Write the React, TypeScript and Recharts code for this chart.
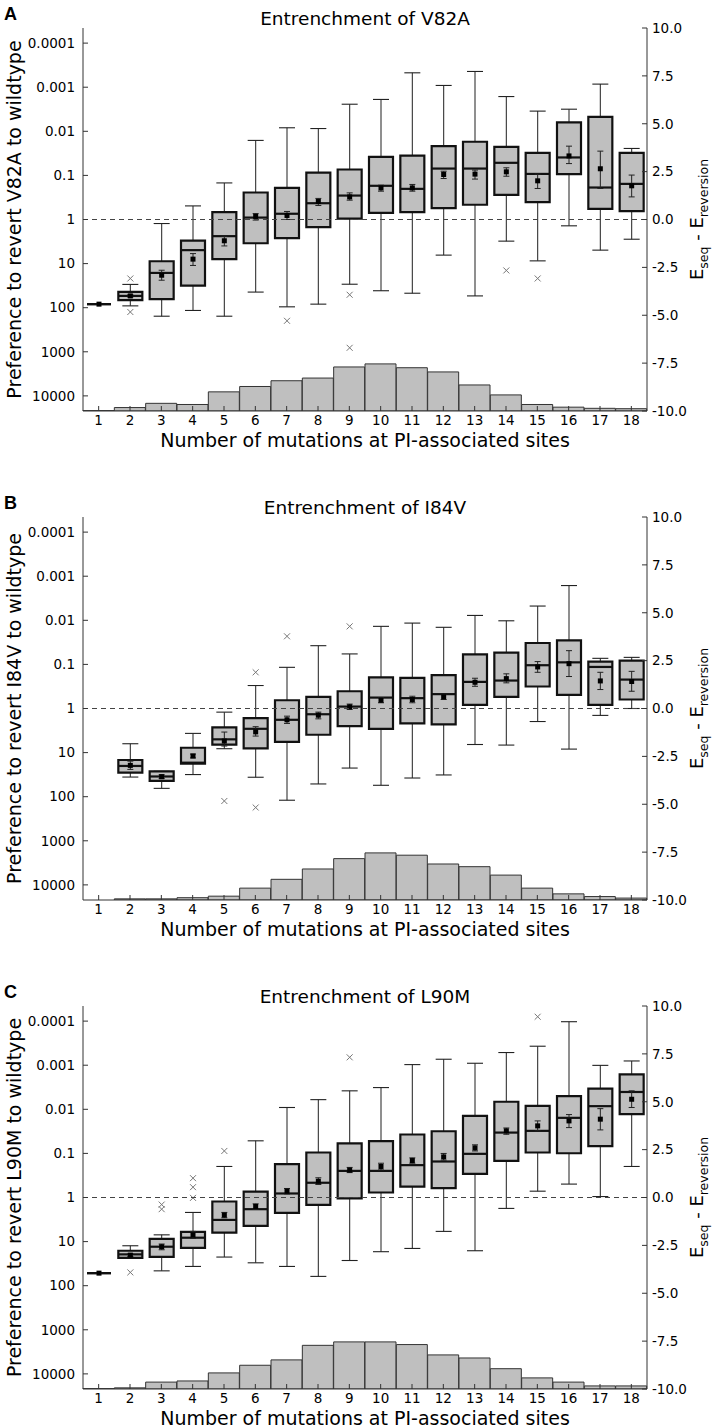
import React from 'react';
import { ComposedChart, Bar, XAxis, YAxis, ReferenceLine, Customized } from 'recharts';

// ---------- data ----------
const categories = ['1','2','3','4','5','6','7','8','9','10','11','12','13','14','15','16','17','18'];

// left-axis tick labels (preference to revert), placed at -ln(value) on the energy axis
const prefLabels = ['0.0001','0.001','0.01','0.1','1','10','100','1000','10000'];
const energyTicks = [-10, -7.5, -5, -2.5, 0, 2.5, 5, 7.5, 10];

type Stat = [number, number, number, number, number] | null; // min, q1, median, q3, max
type Mean = [number, number, number] | null; // mean, low, high

// ---- Panel A: V82A ----
const statsA: Stat[] = [
  [-4.42, -4.42, -4.42, -4.42, -4.42],
  [-4.51, -4.21, -3.99, -3.78, -3.39],
  [-5.05, -4.16, -2.79, -2.18, -0.21],
  [-4.75, -3.45, -1.6, -1.1, 0.71],
  [-5.05, -2.07, -0.87, 0.38, 1.91],
  [-3.79, -1.24, 0.1, 1.41, 4.13],
  [-4.56, -0.97, 0.3, 1.65, 4.79],
  [-4.42, -0.4, 0.85, 2.45, 4.75],
  [-3.38, 0.05, 1.25, 2.61, 6.02],
  [-3.72, 0.35, 1.76, 3.27, 6.27],
  [-3.85, 0.38, 1.6, 3.34, 7.66],
  [-1.86, 0.59, 2.66, 3.83, 7.0],
  [-3.99, 0.77, 2.66, 4.06, 7.73],
  [-1.13, 1.29, 2.96, 3.79, 6.42],
  [-2.16, 0.91, 2.38, 3.48, 5.66],
  [-0.33, 2.37, 3.24, 5.07, 5.76],
  [-1.6, 0.56, 1.67, 5.36, 7.07],
  [-1.03, 0.44, 1.86, 3.48, 3.71],
];
const meansA: Mean[] = [
  [-4.42, -4.42, -4.42], [-3.99, -4.05, -3.93], [-2.91, -3.17, -2.65], [-2.07, -2.4, -1.78],
  [-1.11, -1.38, -0.87], [0.16, -0.03, 0.31], [0.21, 0.0, 0.42], [0.94, 0.73, 1.1],
  [1.18, 1.01, 1.39], [1.65, 1.48, 1.79], [1.65, 1.48, 1.83], [2.35, 2.14, 2.52],
  [2.37, 2.11, 2.58], [2.49, 2.26, 2.7], [2.02, 1.62, 2.37], [3.32, 2.92, 3.83],
  [2.65, 1.62, 3.57], [1.76, 1.18, 2.32],
];
const outliersA: number[][] = [
  [], [-3.08, -4.83], [], [], [], [], [-5.29], [], [-3.93, -6.7],
  [], [], [], [], [-2.66], [-3.08], [], [], [],
];
const histA = [1, 9, 20, 17, 50, 64, 79, 86, 115, 123, 113, 102, 68, 42, 17, 10, 7, 6];

// ---- Panel B: I84V ----
const statsB: Stat[] = [
  null,
  [-3.58, -3.35, -3.0, -2.69, -1.84],
  [-4.17, -3.78, -3.55, -3.28, -3.28],
  [-3.45, -2.88, -2.83, -2.05, -1.3],
  [-2.1, -1.89, -1.61, -0.99, -0.19],
  [-3.59, -2.08, -1.06, -0.5, 1.2],
  [-4.79, -1.74, -0.59, 0.43, 2.15],
  [-3.94, -1.37, -0.3, 0.61, 3.28],
  [-3.11, -0.92, 0.1, 0.9, 2.85],
  [-4.01, -1.06, 0.57, 1.63, 4.29],
  [-3.63, -0.78, 0.54, 1.6, 4.46],
  [-3.47, -0.83, 0.75, 1.74, 4.24],
  [-1.88, 0.19, 1.39, 2.83, 4.86],
  [-1.91, 0.61, 1.46, 2.92, 4.58],
  [-0.68, 1.15, 2.26, 3.42, 5.35],
  [-2.12, 0.71, 2.41, 3.56, 6.42],
  [-0.36, 0.19, 2.17, 2.45, 2.62],
  [0.0, 0.47, 1.51, 2.5, 2.67],
];
const meansB: Mean[] = [
  null, [-2.97, -3.18, -2.75], [-3.56, -3.66, -3.46], [-2.48, -2.58, -2.38],
  [-1.7, -1.96, -1.23], [-1.22, -1.44, -0.95], [-0.59, -0.78, -0.4], [-0.35, -0.54, -0.19],
  [0.09, -0.05, 0.23], [0.43, 0.3, 0.57], [0.47, 0.3, 0.64], [0.61, 0.47, 0.73],
  [1.37, 1.16, 1.58], [1.56, 1.34, 1.81], [2.17, 1.89, 2.45], [2.34, 1.67, 3.02],
  [1.44, 0.99, 1.89], [1.41, 0.9, 1.94],
];
const outliersB: number[][] = [
  [], [], [], [], [-4.83], [1.89, -5.17], [3.77], [], [4.29],
  [], [], [], [], [], [], [], [], [],
];
const histB = [0, 3, 3, 6, 10, 31, 54, 81, 108, 123, 117, 94, 87, 65, 31, 16, 9, 5];

// ---- Panel C: L90M ----
const statsC: Stat[] = [
  [-3.95, -3.95, -3.95, -3.95, -3.95],
  [-3.18, -3.15, -2.97, -2.78, -2.52],
  [-3.83, -3.1, -2.57, -2.16, -1.95],
  [-3.6, -2.63, -2.1, -1.79, -0.78],
  [-3.11, -1.83, -1.17, -0.21, 1.62],
  [-3.41, -1.48, -0.61, 0.31, 2.96],
  [-3.6, -0.8, 0.21, 1.74, 4.7],
  [-4.12, -0.38, 0.77, 2.35, 5.11],
  [-3.29, -0.05, 1.39, 2.83, 5.57],
  [-2.83, 0.26, 1.39, 2.94, 5.74],
  [-2.66, 0.57, 1.69, 3.29, 6.94],
  [-1.77, 0.49, 1.88, 3.46, 7.22],
  [-2.78, 1.23, 2.28, 4.26, 7.01],
  [-0.57, 1.91, 3.39, 5.0, 7.57],
  [0.33, 2.35, 3.48, 4.78, 7.9],
  [0.7, 2.31, 4.16, 5.29, 9.18],
  [0.05, 2.68, 4.77, 5.69, 6.9],
  [1.62, 4.35, 5.51, 6.43, 7.13],
];
const meansC: Mean[] = [
  [-3.95, -3.95, -3.95], [-3.01, -3.08, -2.94], [-2.57, -2.73, -2.43], [-1.95, -2.14, -1.77],
  [-0.92, -1.06, -0.78], [-0.47, -0.61, -0.33], [0.33, 0.19, 0.47], [0.85, 0.68, 1.03],
  [1.43, 1.3, 1.57], [1.62, 1.44, 1.79], [1.93, 1.79, 2.07], [2.12, 1.95, 2.3],
  [2.59, 2.43, 2.75], [3.48, 3.3, 3.63], [3.74, 3.48, 4.0], [4.0, 3.65, 4.33],
  [4.09, 3.53, 4.64], [5.13, 4.7, 5.57],
];
const outliersC: number[][] = [
  [], [-3.91], [-0.37, -0.61], [1.01, 0.54, -0.02], [2.43], [], [], [], [7.32],
  [], [], [], [], [], [9.44], [], [], [],
];
const histC = [1, 3, 18, 21, 42, 62, 76, 114, 123, 123, 116, 89, 81, 53, 29, 18, 8, 8];

// ---------- rendering ----------
const FONT = '"DejaVu Sans", Verdana, sans-serif';
const CHART_W = 714;
const CHART_H = 489;
const PLOT_TOP = 28;
const PLOT_BOTTOM = 411;
const PLOT_CY = (PLOT_TOP + PLOT_BOTTOM) / 2;
const LN10 = Math.log(10);
const prefTicks = prefLabels.map((_, i) => (4 - i) * LN10);

const BoxShape = (props: any) => {
  const { x, y, width, height, payload } = props;
  if (!payload || !payload.box) return null;
  const [mn, q1, md, q3, mx] = payload.box as number[];
  const top = Math.min(y, y + height);
  const h = Math.abs(height);
  const k = h / (mx + 10);
  const Y = (v: number) => top + (mx - v) * k;
  const cx = x + width / 2;
  const l = x;
  const r = x + width;
  const cap = 8;
  const m = payload.mean as number[] | null;
  const outs = (payload.out || []) as number[];
  return (
    <g>
      <line x1={cx} x2={cx} y1={Y(mx)} y2={Y(q3)} stroke="#333" strokeWidth={1.1} />
      <line x1={cx} x2={cx} y1={Y(q1)} y2={Y(mn)} stroke="#333" strokeWidth={1.1} />
      <line x1={cx - cap} x2={cx + cap} y1={Y(mx)} y2={Y(mx)} stroke="#222" strokeWidth={1.1} />
      <line x1={cx - cap} x2={cx + cap} y1={Y(mn)} y2={Y(mn)} stroke="#222" strokeWidth={1.1} />
      <path
        d={`M${l},${Y(q3)}H${r}V${Y(q1)}H${l}Z`}
        fill="#bfbfbf"
        stroke="#111"
        strokeWidth={2.2}
      />
      <line x1={l} x2={r} y1={Y(md)} y2={Y(md)} stroke="#111" strokeWidth={2.2} />
      {m && (
        <g>
          <line x1={cx} x2={cx} y1={Y(m[2])} y2={Y(m[1])} stroke="#222" strokeWidth={1} />
          <line x1={cx - 3} x2={cx + 3} y1={Y(m[2])} y2={Y(m[2])} stroke="#222" strokeWidth={1} />
          <line x1={cx - 3} x2={cx + 3} y1={Y(m[1])} y2={Y(m[1])} stroke="#222" strokeWidth={1} />
          <rect x={cx - 2.5} y={Y(m[0]) - 2.5} width={5} height={5} fill="#000" />
        </g>
      )}
      {outs.map((v, i) => (
        <g key={i} stroke="#777" strokeWidth={1}>
          <line x1={cx - 3} x2={cx + 3} y1={Y(v) - 3} y2={Y(v) + 3} />
          <line x1={cx - 3} x2={cx + 3} y1={Y(v) + 3} y2={Y(v) - 3} />
        </g>
      ))}
    </g>
  );
};

const PanelTexts = ({ letter, title, ylabel }: { letter: string; title: string; ylabel: string }) => (
  <g fontFamily={FONT} fill="#000">
    <text x={4} y={20} fontFamily='"Liberation Sans", Arial, sans-serif' fontWeight="bold" fontSize={18}>
      {letter}
    </text>
    <text x={365} y={25} textAnchor="middle" fontSize={18.5}>
      {title}
    </text>
    <text transform={`translate(21,${PLOT_CY}) rotate(-90)`} textAnchor="middle" fontSize={19}>
      {ylabel}
    </text>
    <text x={365} y={447} textAnchor="middle" fontSize={19}>
      Number of mutations at PI-associated sites
    </text>
    <text transform={`translate(703,${PLOT_CY}) rotate(-90)`} textAnchor="middle" fontSize={18}>
      E<tspan fontSize={12.5} dy={5}>seq</tspan>
      <tspan dy={-5}> - E</tspan>
      <tspan fontSize={12.5} dy={5}>reversion</tspan>
    </text>
  </g>
);

type PanelProps = {
  letter: string;
  title: string;
  ylabel: string;
  stats: Stat[];
  means: Mean[];
  outliers: number[][];
  hist: number[];
};

const tickStyle = { fontSize: 13.5, fill: '#000', fontFamily: FONT };

const Panel = ({ letter, title, ylabel, stats, means, outliers, hist }: PanelProps) => {
  const data = categories.map((c, i) => ({
    cat: c,
    hist: hist[i],
    box: stats[i],
    mean: means[i],
    out: outliers[i],
    range: stats[i] ? [-10, (stats[i] as number[])[4]] : null,
  }));
  return (
    <ComposedChart
      width={CHART_W}
      height={CHART_H}
      data={data}
      margin={{ top: PLOT_TOP, right: 0, bottom: 0, left: 0 }}
      barCategoryGap={0}
      barGap={0}
    >
      <XAxis
        xAxisId="main"
        dataKey="cat"
        height={CHART_H - PLOT_BOTTOM}
        tick={tickStyle}
        tickSize={-5}
        tickMargin={9}
        stroke="#333"
        interval={0}
      />
      <XAxis
        xAxisId="top"
        dataKey="cat"
        orientation="top"
        height={0}
        tick={false}
        tickSize={-5}
        stroke="#333"
        interval={0}
      />
      <XAxis xAxisId="box" dataKey="cat" hide height={0} />
      <YAxis
        yAxisId="left"
        orientation="left"
        width={83}
        type="number"
        domain={[-10, 10]}
        allowDataOverflow
        ticks={prefTicks}
        tickFormatter={(v: number) => {
          const idx = Math.round(4 - v / LN10);
          return prefLabels[idx] ?? '';
        }}
        tick={tickStyle}
        tickSize={-5}
        tickMargin={13}
        stroke="#333"
        interval={0}
      />
      <YAxis
        yAxisId="right"
        orientation="right"
        width={67}
        type="number"
        domain={[-10, 10]}
        allowDataOverflow
        ticks={energyTicks}
        tickFormatter={(v: number) => v.toFixed(1)}
        tick={tickStyle}
        tickSize={-5}
        tickMargin={10}
        stroke="#333"
        interval={0}
      />
      <YAxis yAxisId="hist" type="number" domain={[0, 1000]} hide width={0} allowDataOverflow />
      <Bar
        xAxisId="main"
        yAxisId="hist"
        dataKey="hist"
        fill="#bfbfbf"
        stroke="#333"
        strokeWidth={1}
        isAnimationActive={false}
      />
      <ReferenceLine yAxisId="left" xAxisId="main" y={0} stroke="#444" strokeDasharray="5 4" strokeWidth={1} />
      <Bar
        xAxisId="box"
        yAxisId="right"
        dataKey="range"
        barSize={24}
        shape={BoxShape}
        isAnimationActive={false}
      />
      <Customized component={() => <PanelTexts letter={letter} title={title} ylabel={ylabel} />} />
    </ComposedChart>
  );
};

export default function App() {
  return (
    <div style={{ position: 'absolute', left: 0, top: 0, width: CHART_W, background: '#fff' }}>
      <Panel
        letter="A"
        title="Entrenchment of V82A"
        ylabel="Preference to revert V82A to wildtype"
        stats={statsA}
        means={meansA}
        outliers={outliersA}
        hist={histA}
      />
      <Panel
        letter="B"
        title="Entrenchment of I84V"
        ylabel="Preference to revert I84V to wildtype"
        stats={statsB}
        means={meansB}
        outliers={outliersB}
        hist={histB}
      />
      <Panel
        letter="C"
        title="Entrenchment of L90M"
        ylabel="Preference to revert L90M to wildtype"
        stats={statsC}
        means={meansC}
        outliers={outliersC}
        hist={histC}
      />
    </div>
  );
}
